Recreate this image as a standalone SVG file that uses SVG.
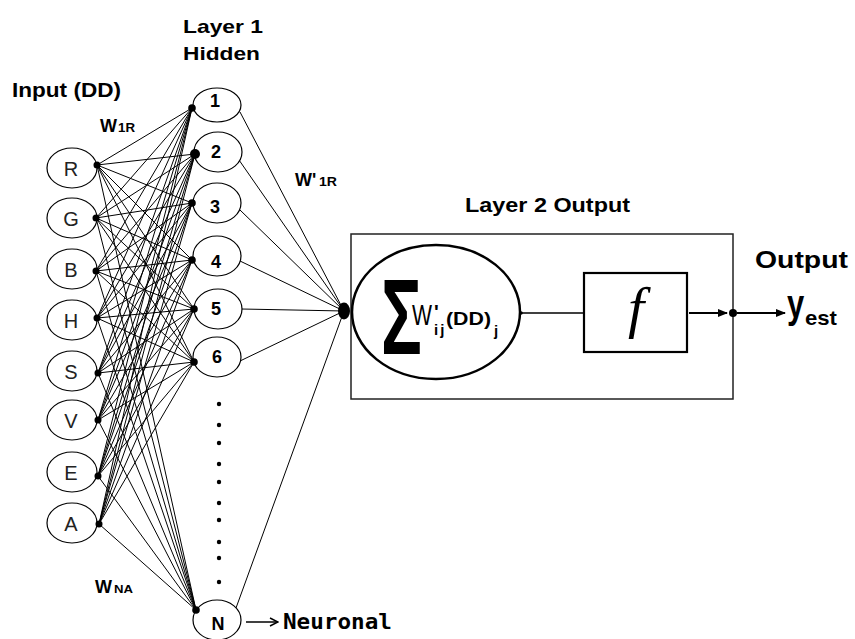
<svg xmlns="http://www.w3.org/2000/svg" width="855" height="639" viewBox="0 0 855 639">
<defs>
<style>
.b{font-family:"Liberation Sans",Arial,sans-serif;font-weight:bold;fill:#000}
.r{font-family:"Liberation Sans",Arial,sans-serif;fill:#000}
.node{fill:#fff;stroke:#000;stroke-width:1.2}
.inl{font-family:"Liberation Sans",Arial,sans-serif;font-size:20px;text-anchor:middle;fill:#222}
.hl{font-family:"Liberation Sans",Arial,sans-serif;font-weight:bold;font-size:18px;text-anchor:middle;fill:#000}
.mesh{stroke:#000;stroke-width:1;fill:none}
.dot{fill:#000}
</style>
<marker id="ah" markerWidth="10" markerHeight="8" refX="9" refY="4" orient="auto" markerUnits="userSpaceOnUse"><path d="M0,0 L10,4 L0,8 z" fill="#000"/></marker>
<marker id="oa" markerWidth="10" markerHeight="10" refX="9" refY="5" orient="auto" markerUnits="userSpaceOnUse"><path d="M1,1 L9,5 L1,9" fill="none" stroke="#000" stroke-width="1.5"/></marker>
</defs>
<rect width="855" height="639" fill="#fff"/>

<g id="connectors">
<path class="mesh" d="M97 165L192 108M97 165L195 154M97 165L192 203M97 165L192 260M97 165L194 309M97 165L194 362M97 165L196 610"/>
<path class="mesh" d="M96 218L192 108M96 218L195 154M96 218L192 203M96 218L192 260M96 218L194 309M96 218L194 362M96 218L196 610"/>
<path class="mesh" d="M96 271L192 108M96 271L195 154M96 271L192 203M96 271L192 260M96 271L194 309M96 271L194 362M96 271L196 610"/>
<path class="mesh" d="M97 318L192 108M97 318L195 154M97 318L192 203M97 318L192 260M97 318L194 309M97 318L194 362M97 318L196 610"/>
<path class="mesh" d="M98 373L192 108M98 373L195 154M98 373L192 203M98 373L192 260M98 373L194 309M98 373L194 362M98 373L196 610"/>
<path class="mesh" d="M98 420L192 108M98 420L195 154M98 420L192 203M98 420L192 260M98 420L194 309M98 420L194 362M98 420L196 610"/>
<path class="mesh" d="M98 476L192 108M98 476L195 154M98 476L192 203M98 476L192 260M98 476L194 309M98 476L194 362M98 476L196 610"/>
<path class="mesh" d="M99 524L192 108M99 524L195 154M99 524L192 203M99 524L192 260M99 524L194 309M99 524L194 362M99 524L196 610"/>
<path class="mesh" d="M240 112L344 311M239 160L344 311M240 210L344 311M240 261L344 311M241 309L344 311M240 361L344 311M236 608L344 311"/>
<ellipse cx="344" cy="311" rx="6" ry="8.5" class="dot"/>
<line x1="246" y1="622" x2="278" y2="622" stroke="#000" stroke-width="1.5" marker-end="url(#oa)"/>
</g>

<g id="label-top">
<text class="b" x="183" y="33" font-size="18.5" textLength="80" lengthAdjust="spacingAndGlyphs">Layer 1</text>
<text class="b" x="183" y="60" font-size="18.5" textLength="77" lengthAdjust="spacingAndGlyphs">Hidden</text>
<text class="b" x="12" y="97" font-size="20" textLength="109" lengthAdjust="spacingAndGlyphs">Input (DD)</text>
<text class="b" x="100" y="132" font-size="18">W</text><text class="b" x="118" y="132" font-size="12" textLength="17" lengthAdjust="spacingAndGlyphs">1R</text>
<text class="b" x="295" y="186" font-size="18">W'</text><text class="b" x="319" y="186" font-size="12" textLength="18" lengthAdjust="spacingAndGlyphs">1R</text>
<text class="b" x="95" y="593" font-size="18">W</text><text class="b" x="114" y="593" font-size="11" textLength="19" lengthAdjust="spacingAndGlyphs">NA</text>
<text class="b" x="465" y="212" font-size="21" textLength="165" lengthAdjust="spacingAndGlyphs">Layer 2 Output</text>
<text class="b" x="755" y="268" font-size="24" textLength="93" lengthAdjust="spacingAndGlyphs">Output</text>
<text x="283" y="629" font-family="'DejaVu Sans Mono','Liberation Mono',monospace" font-weight="bold" font-size="22" textLength="109" lengthAdjust="spacingAndGlyphs">Neuronal</text>
</g>

<g id="in-R"><ellipse class="node" cx="72" cy="168" rx="25" ry="20"/><text class="inl" x="71" y="175.5">R</text><circle class="dot" cx="97" cy="165" r="3.5"/></g>
<g id="in-G"><ellipse class="node" cx="72" cy="218" rx="25" ry="20"/><text class="inl" x="71" y="225.5">G</text><circle class="dot" cx="96" cy="218" r="3.5"/></g>
<g id="in-B"><ellipse class="node" cx="72" cy="269" rx="25" ry="20"/><text class="inl" x="71" y="276.5">B</text><circle class="dot" cx="96" cy="271" r="3.5"/></g>
<g id="in-H"><ellipse class="node" cx="72" cy="320" rx="25" ry="20"/><text class="inl" x="71" y="327.5">H</text><circle class="dot" cx="97" cy="318" r="3.5"/></g>
<g id="in-S"><ellipse class="node" cx="72" cy="371" rx="25" ry="20"/><text class="inl" x="71" y="378.5">S</text><circle class="dot" cx="98" cy="373" r="3.5"/></g>
<g id="in-V"><ellipse class="node" cx="72" cy="420" rx="25" ry="20"/><text class="inl" x="71" y="427.5">V</text><circle class="dot" cx="98" cy="420" r="3.5"/></g>
<g id="in-E"><ellipse class="node" cx="72" cy="472" rx="25" ry="20"/><text class="inl" x="71" y="479.5">E</text><circle class="dot" cx="98" cy="476" r="3.5"/></g>
<g id="in-A"><ellipse class="node" cx="72" cy="523" rx="25" ry="20"/><text class="inl" x="71" y="530.5">A</text><circle class="dot" cx="99" cy="524" r="3.5"/></g>

<g id="h-1"><ellipse class="node" cx="217" cy="105" rx="24" ry="17"/><text class="hl" x="215" y="107" font-size="16">1</text><circle class="dot" cx="192" cy="108" r="3.8"/></g>
<g id="h-2"><ellipse class="node" cx="218" cy="152" rx="24" ry="20"/><text class="hl" x="216" y="158">2</text><circle class="dot" cx="195" cy="154" r="5"/></g>
<g id="h-3"><ellipse class="node" cx="217" cy="203" rx="24" ry="20"/><text class="hl" x="215" y="213">3</text><circle class="dot" cx="192" cy="203" r="3.8"/></g>
<g id="h-4"><ellipse class="node" cx="217" cy="256" rx="24" ry="20"/><text class="hl" x="216" y="268">4</text><circle class="dot" cx="192" cy="260" r="3.8"/></g>
<g id="h-5"><ellipse class="node" cx="218" cy="309" rx="24" ry="20"/><text class="hl" x="216" y="315">5</text><circle class="dot" cx="194" cy="309" r="3.8"/></g>
<g id="h-6"><ellipse class="node" cx="217" cy="357" rx="24" ry="20"/><text class="hl" x="217" y="363">6</text><circle class="dot" cx="194" cy="362" r="3.8"/></g>
<g id="h-dots" class="dot">
<circle cx="219" cy="404" r="2.2"/><circle cx="219" cy="425" r="2.2"/><circle cx="219" cy="443" r="2.2"/><circle cx="219" cy="464" r="2.2"/><circle cx="219" cy="482" r="2.2"/><circle cx="219" cy="503" r="2.2"/><circle cx="219" cy="520" r="2.2"/><circle cx="219" cy="542" r="2.2"/><circle cx="219" cy="558" r="2.2"/><circle cx="219" cy="582" r="2.2"/>
</g>
<g id="h-N"><ellipse class="node" cx="217" cy="620" rx="24" ry="20"/><text class="hl" x="218" y="630">N</text><circle class="dot" cx="196" cy="610" r="3.8"/></g>

<g id="output-layer">
<rect x="351" y="234" width="382" height="165" fill="none" stroke="#222" stroke-width="1.5"/>
<ellipse cx="436" cy="312" rx="84" ry="67" fill="#fff" stroke="#000" stroke-width="2.5"/>
<text class="r" transform="translate(381,354) scale(0.68,1.08)" font-size="100" font-weight="bold">Σ</text>
<text class="b"><tspan x="412" y="325" font-size="30" font-weight="normal" textLength="20" lengthAdjust="spacingAndGlyphs">W</tspan><tspan x="434" y="319" font-size="20">'</tspan><tspan x="434" y="335" font-size="15" letter-spacing="2">ij</tspan><tspan x="446" y="325" font-size="19" textLength="45" lengthAdjust="spacingAndGlyphs">(DD)</tspan><tspan x="494" y="336" font-size="15">j</tspan></text>
<line x1="520" y1="313" x2="584" y2="313" stroke="#000" stroke-width="1.5"/>
<circle cx="521" cy="313" r="1.8" class="dot"/>
<rect x="584" y="273" width="103" height="79" fill="#fff" stroke="#000" stroke-width="2.2"/>
<text x="636" y="327" font-family="'Liberation Serif','Times New Roman',serif" font-style="italic" font-size="58" text-anchor="middle">f</text>
<line x1="689" y1="313" x2="727" y2="313" stroke="#000" stroke-width="2" marker-end="url(#ah)"/>
<circle cx="733" cy="313" r="4" class="dot"/>
<line x1="737" y1="313" x2="785" y2="313" stroke="#000" stroke-width="1.8" marker-end="url(#ah)"/>
<text class="b" transform="translate(787,318) scale(1,1.3)" font-size="31">y</text>
<text class="b" x="805" y="325" font-size="21" textLength="32" lengthAdjust="spacingAndGlyphs">est</text>
</g>
</svg>
